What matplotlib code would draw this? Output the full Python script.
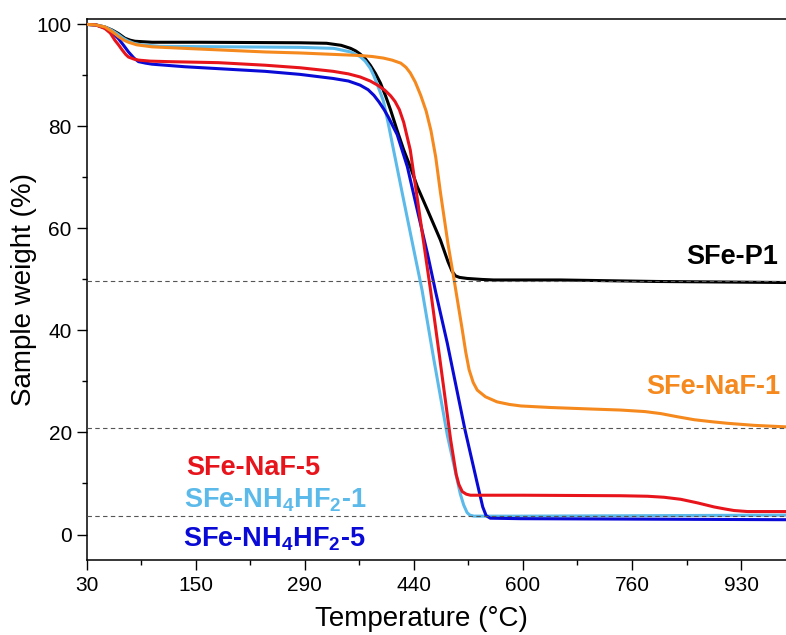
import numpy as np
import matplotlib
matplotlib.use('Agg')
import matplotlib.pyplot as plt
from matplotlib.ticker import FixedLocator, FixedFormatter

plt.rcParams['font.family'] = ['Liberation Sans', 'DejaVu Sans']
plt.rcParams['mathtext.fontset'] = 'custom'
plt.rcParams['mathtext.rm'] = 'Liberation Sans'
plt.rcParams['mathtext.bf'] = 'Liberation Sans:bold'

# axis tick labels (the x axis is evenly spaced between these temperatures)
tick_temps = [30, 150, 290, 440, 600, 760, 930]

# SFe-P1
p1_t = [30, 40, 50, 58, 65, 72, 78, 83, 92, 102, 156, 284, 320, 340, 353, 360, 366, 373, 380, 387,
        394, 401, 408, 417, 426, 435, 445, 460, 479, 490, 496, 501, 507, 518, 540, 557, 655, 800, 1000]
p1_w = [100, 99.9, 99.5, 98.9, 98.2, 97.3, 96.9, 96.7, 96.6, 96.5, 96.5, 96.4, 96.3, 95.9, 95.3, 94.8,
        94.2, 93.3, 92.0, 90.4, 88.5, 86.0, 83.2, 79.2, 75.4, 72.1, 68.2, 63.6, 57.7, 53.5, 51.6, 50.7,
        50.4, 50.2, 50.0, 49.9, 49.9, 49.6, 49.4]

# SFe-NaF-1
naf1_t = [30, 40, 50, 58, 65, 71, 76, 85, 102, 138, 239, 284, 366, 383, 398, 410, 422, 429, 435, 442,
          450, 458, 465, 472, 479, 490, 499, 511, 516, 521, 527, 533, 545, 562, 580, 597, 640, 700, 743,
          780, 805, 830, 857, 885, 909, 950, 1000]
naf1_w = [100, 99.9, 99.5, 98.6, 97.6, 96.9, 96.5, 96.0, 95.6, 95.3, 94.6, 94.4, 93.9, 93.7, 93.4, 93.0,
          92.4, 91.6, 90.5, 88.7, 86.1, 83.0, 79.2, 74.0, 67.0, 57.0, 49.9, 40.1, 35.8, 32.3, 29.8, 28.3,
          27.0, 26.0, 25.5, 25.2, 24.9, 24.6, 24.4, 24.1, 23.7, 23.1, 22.5, 22.1, 21.8, 21.4, 21.1]

# SFe-NaF-5
naf5_t = [30, 40, 50, 56, 61, 65, 69, 73, 76, 82, 87, 100, 120, 179, 239, 284, 329, 350, 366, 380,
          390, 400, 408, 414, 420, 426, 435, 464, 478, 494, 502, 506, 511, 517, 523, 600, 744, 784, 810,
          836, 862, 888, 905, 919, 940, 1000]
naf5_w = [100, 99.9, 99.2, 98.3, 96.9, 96.0, 95.0, 94.1, 93.6, 93.2, 93.0, 92.8, 92.7, 92.5, 92.0, 91.5,
          90.8, 90.3, 89.7, 88.9, 88.1, 87.1, 86.0, 84.9, 83.3, 80.8, 75.4, 48.3, 34.5, 18.5, 11.8, 9.8,
          8.4, 7.9, 7.7, 7.7, 7.6, 7.5, 7.3, 6.9, 6.2, 5.4, 5.0, 4.7, 4.5, 4.5]

# SFe-NH4HF2-1
nh1_t = [30, 40, 50, 57, 64, 70, 75, 82, 90, 110, 200, 284, 330, 353, 366, 373, 380, 385, 390, 398,
         405, 412, 426, 440, 452, 469, 489, 508, 513, 518, 522, 528, 597, 800, 1000]
nh1_w = [100, 99.9, 99.5, 98.9, 98.1, 97.3, 96.8, 96.3, 96.0, 95.7, 95.6, 95.5, 95.3, 94.6, 93.7, 92.8,
         91.4, 89.9, 88.1, 85.0, 80.4, 75.4, 65.5, 55.7, 47.9, 34.5, 19.5, 8.0, 5.8, 4.3, 3.8, 3.6,
         3.6, 3.7, 3.8]

# SFe-NH4HF2-5
nh5_t = [30, 40, 50, 58, 65, 71, 76, 82, 87, 95, 102, 138, 239, 284, 329, 350, 366, 377, 385, 392,
         399, 405, 412, 417, 431, 445, 460, 472, 489, 515, 533, 541, 546, 552, 597, 800, 1000]
nh5_w = [100, 99.9, 99.3, 98.4, 97.2, 95.8, 94.6, 93.4, 92.7, 92.4, 92.2, 91.7, 90.8, 90.2, 89.4, 88.9,
         88.1, 87.2, 86.1, 84.8, 83.3, 81.8, 79.8, 78.4, 72.1, 63.6, 55.0, 47.5, 37.5, 20.5, 10.0, 5.4,
         3.7, 3.2, 3.1, 3.0, 2.9]

ref_levels = [49.7, 20.9, 3.6]


def temp_to_pos(t):
    t = np.asarray(t, dtype=float)
    idx = np.arange(len(tick_temps), dtype=float)
    pos = np.interp(t, tick_temps, idx)
    pos = np.where(t < tick_temps[0], (t - tick_temps[0]) / 120.0, pos)
    pos = np.where(t > tick_temps[-1], idx[-1] + (t - tick_temps[-1]) / 170.0, pos)
    return pos


def pos_to_temp(p):
    p = np.asarray(p, dtype=float)
    idx = np.arange(len(tick_temps), dtype=float)
    t = np.interp(p, idx, tick_temps)
    t = np.where(p < 0, tick_temps[0] + p * 120.0, t)
    t = np.where(p > idx[-1], tick_temps[-1] + (p - idx[-1]) * 170.0, t)
    return t


fig = plt.figure(figsize=(7.86, 6.35), dpi=100)
ax = fig.add_axes([0.1103, 0.1181, 0.8897, 0.8515])
ax.set_xscale('function', functions=(temp_to_pos, pos_to_temp))

lw = 2.2
ax.plot(p1_t, p1_w, color='black', lw=lw, zorder=3)
ax.plot(nh1_t, nh1_w, color='#5BBAEA', lw=lw, zorder=3)
ax.plot(nh5_t, nh5_w, color='#0A0AD6', lw=lw, zorder=4)
ax.plot(naf5_t, naf5_w, color='#E8141C', lw=lw, zorder=4)
ax.plot(naf1_t, naf1_w, color='#F5891E', lw=lw, zorder=5)

for lev in ref_levels:
    ax.axhline(lev, color='#555555', lw=0.8, ls=(0, (4, 3)), zorder=6)

ax.set_xlim(30, 1000)
ax.set_ylim(-5, 101)

ax.xaxis.set_major_locator(FixedLocator(tick_temps))
ax.xaxis.set_major_formatter(FixedFormatter([str(t) for t in tick_temps]))
minor_t = pos_to_temp(np.arange(len(tick_temps) - 1) + 0.5)
ax.xaxis.set_minor_locator(FixedLocator(minor_t))
ax.set_yticks([0, 20, 40, 60, 80, 100])
ax.set_yticks([10, 30, 50, 70, 90], minor=True)

ax.tick_params(which='major', direction='out', length=7.2, width=1.0, labelsize=15, pad=4)
ax.tick_params(which='minor', direction='out', length=3.8, width=1.0)
ax.tick_params(axis='y', which='major', pad=3.5)
for side in ['left', 'bottom', 'top']:
    ax.spines[side].set_linewidth(1.1)
ax.spines['right'].set_visible(False)

ax.set_xlabel('Temperature (°C)', fontsize=20)
ax.set_ylabel('Sample weight (%)', fontsize=20)
ax.xaxis.set_label_coords(0.478, -0.085)
ax.yaxis.set_label_coords(-0.071, 0.5)

lab = dict(fontsize=19.5, fontweight='bold', va='baseline')
ax.text(988, 53.1, 'SFe-P1', color='black', ha='right', **lab)
ax.text(992, 27.6, 'SFe-NaF-1', color='#F5891E', ha='right', **lab)
ax.text(140, 11.6, 'SFe-NaF-5', color='#E8141C', ha='left', **lab)
ax.text(137, 5.35, r'SFe-NH$_\mathbf{4}$HF$_\mathbf{2}$-1', color='#5BBAEA', ha='left', **lab)
ax.text(136, -2.4, r'SFe-NH$_\mathbf{4}$HF$_\mathbf{2}$-5', color='#0A0AD6', ha='left', **lab)

fig.savefig('out.png', dpi=100)
